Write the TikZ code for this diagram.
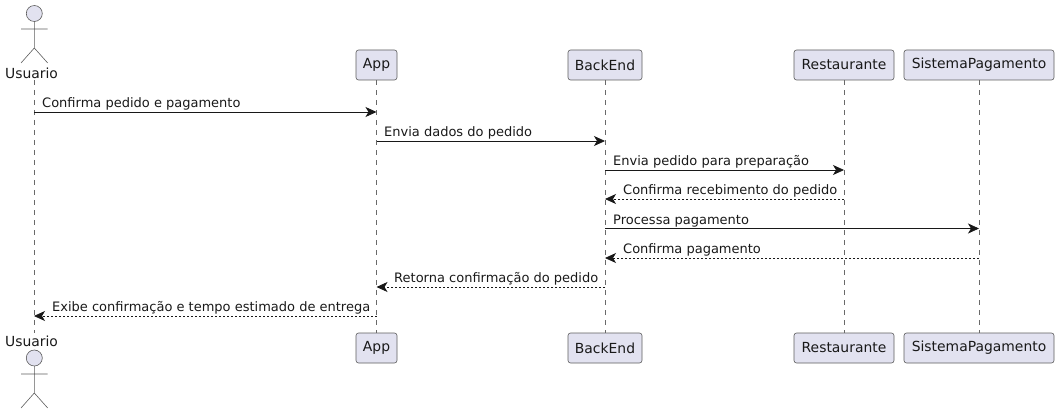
\documentclass[tikz,border=0pt]{standalone}
\usepackage{fontspec}
\setmainfont{DejaVu Sans}
\usetikzlibrary{arrows.meta}
\definecolor{partfill}{HTML}{E2E2F0}
\definecolor{partline}{HTML}{181818}
\tikzstyle{part} = [draw=partline!70, fill=partfill, line width=0.6pt, rounded corners=2.5pt, minimum height=30pt, inner sep=0pt, font=\fontsize{13.9}{16}\selectfont, text=black!90]
\tikzstyle{actorname} = [inner sep=0pt, font=\fontsize{13.9}{16}\selectfont, text=black!90]
\tikzstyle{actorhead} = [draw=partline!70, fill=partfill, line width=0.6pt]
\tikzstyle{actorline} = [draw=partline!70, line width=0.6pt]
\tikzstyle{life} = [draw=partline!65, line width=0.5pt, dash pattern=on 5pt off 5pt]
\tikzstyle{msglabel} = [anchor=base west, inner sep=0pt, font=\fontsize{13}{15}\selectfont, text=black!90]
\tikzstyle{arrow} = [-{Stealth[length=11pt, width=10pt, inset=3pt]}, draw=partline, line width=0.8pt]
\tikzstyle{back} = [-{Stealth[length=11pt, width=10pt, inset=3pt]}, draw=partline, line width=0.8pt, dash pattern=on 2pt off 2pt]

\begin{document}
\begin{tikzpicture}[x=1pt, y=-1pt]
	\useasboundingbox (0,0) rectangle (1059,414);

	% top row
	\coordinate (usuarioTop) at (34,80);
	\node (usuarioName)[actorname] at (31.5,73) {Usuario};
	\node (appTop)[part, minimum width=41pt] at (376.5,65) {App};
	\node (backendTop)[part, minimum width=74pt] at (605,65) {BackEnd};
	\node (restauranteTop)[part, minimum width=100pt] at (844,65) {Restaurante};
	\node (pagamentoTop)[part, minimum width=150pt] at (979,65) {SistemaPagamento};

	% bottom row
	\coordinate (usuarioBot) at (34,333);
	\node (usuarioName2)[actorname] at (31.5,341) {Usuario};
	\node (appBot)[part, minimum width=41pt] at (376.5,348) {App};
	\node (backendBot)[part, minimum width=74pt] at (605,348) {BackEnd};
	\node (restauranteBot)[part, minimum width=100pt] at (844,348) {Restaurante};
	\node (pagamentoBot)[part, minimum width=150pt] at (979,348) {SistemaPagamento};

	% lifelines
	\draw [life] (usuarioTop) -- (usuarioBot);
	\draw [life] (appTop) -- (appBot);
	\draw [life] (backendTop) -- (backendBot);
	\draw [life] (restauranteTop) -- (restauranteBot);
	\draw [life] (pagamentoTop) -- (pagamentoBot);

	% actors
	\draw [actorhead] (34.3,13.5) circle (8);
	\draw [actorline] (34.3,21.5) -- (34.3,48) (21,29) -- (47.7,29) (21,63) -- (34.3,48) -- (47.7,63);
	\draw [actorhead] (34.3,358) circle (8);
	\draw [actorline] (34.3,366) -- (34.3,393) (21,374) -- (47.7,374) (21,408) -- (34.3,393) -- (47.7,408);

	% messages
	\coordinate (m1) at (0,112);
	\coordinate (m2) at (0,141);
	\coordinate (m3) at (0,170);
	\coordinate (m4) at (0,199);
	\coordinate (m5) at (0,228.5);
	\coordinate (m6) at (0,258);
	\coordinate (m7) at (0,287);
	\coordinate (m8) at (0,316);
	\draw [arrow] (usuarioTop |- m1) -- (appTop |- m1);
	\draw [arrow] (appTop |- m2) -- (backendTop |- m2);
	\draw [arrow] (backendTop |- m3) -- (restauranteTop |- m3);
	\draw [back] (restauranteTop |- m4) -- (backendTop |- m4);
	\draw [arrow] (backendTop |- m5) -- (pagamentoTop |- m5);
	\draw [back] (pagamentoTop |- m6) -- (backendTop |- m6);
	\draw [back] (backendTop |- m7) -- (appTop |- m7);
	\draw [back] (appTop |- m8) -- (usuarioTop |- m8);

	\node (t1)[msglabel] at (42,107.5) {Confirma pedido e pagamento};
	\node (t2)[msglabel] at (384,136.5) {Envia dados do pedido};
	\node (t3)[msglabel] at (613,165.5) {Envia pedido para preparação};
	\node (t4)[msglabel] at (623,194.5) {Confirma recebimento do pedido};
	\node (t5)[msglabel] at (613,224) {Processa pagamento};
	\node (t6)[msglabel] at (623,253.5) {Confirma pagamento};
	\node (t7)[msglabel] at (394,282.5) {Retorna confirmação do pedido};
	\node (t8)[msglabel] at (52,311.5) {Exibe confirmação e tempo estimado de entrega};
\end{tikzpicture}
\end{document}
